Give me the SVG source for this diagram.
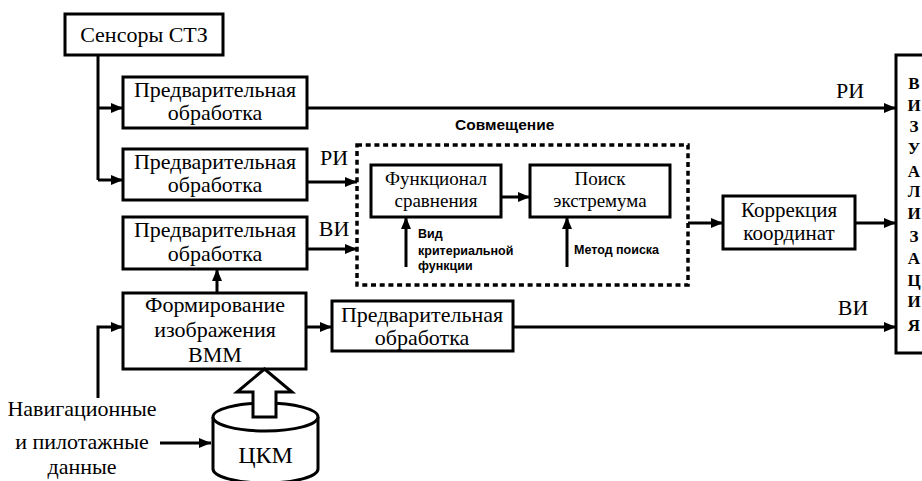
<svg xmlns="http://www.w3.org/2000/svg" width="922" height="481" viewBox="0 0 922 481">
<defs>
<marker id="ah" viewBox="0 0 12 10" refX="12" refY="5" markerWidth="12" markerHeight="10" markerUnits="userSpaceOnUse" orient="auto">
<path d="M0,0 L12,5 L0,10 Z" fill="#000"/>
</marker>
</defs>
<rect width="922" height="481" fill="#fff"/>

<g id="connectors" fill="none" stroke="#000" stroke-width="3">
<path d="M98,55 V180"/>
<path d="M98,108 H123" marker-end="url(#ah)"/>
<path d="M98,180 H123" marker-end="url(#ah)"/>
<path d="M307,108 H896" marker-end="url(#ah)"/>
<path d="M307,182 H357" marker-end="url(#ah)"/>
<path d="M307,249 H357" marker-end="url(#ah)"/>
<path d="M217,293 V269" marker-end="url(#ah)"/>
<path d="M306,327 H332" marker-end="url(#ah)"/>
<path d="M513,327 H896" marker-end="url(#ah)"/>
<path d="M98,398 V327 H123" marker-end="url(#ah)"/>
<path d="M160,443 H211" marker-end="url(#ah)"/>
<path d="M501,197 H530" marker-end="url(#ah)"/>
<path d="M406,267 V217" marker-end="url(#ah)"/>
<path d="M567,267 V217" marker-end="url(#ah)"/>
<path d="M688,223 H723" marker-end="url(#ah)"/>
<path d="M855,223 H896" marker-end="url(#ah)"/>
</g>

<g id="edge-labels" font-family="Liberation Serif" font-size="22" text-anchor="middle" fill="#000">
<text x="850" y="98">РИ</text>
<text x="334" y="165">РИ</text>
<text x="334" y="236">ВИ</text>
<text x="853" y="315">ВИ</text>
</g>

<g fill="#fff" stroke="#000" stroke-width="3">
<rect id="r-sensors" x="65" y="14" width="158" height="41"/>
<rect id="r-pre1" x="123" y="77" width="184" height="51"/>
<rect id="r-pre2" x="123" y="149" width="184" height="51"/>
<rect id="r-pre3" x="123" y="217" width="184" height="52"/>
<rect id="r-vmm" x="123" y="293" width="183" height="76"/>
<rect id="r-pre4" x="332" y="301" width="181" height="50"/>
<rect id="r-func" x="371" y="165" width="130" height="52"/>
<rect id="r-poisk" x="530" y="165" width="140" height="52"/>
<rect id="r-korr" x="723" y="196" width="132" height="53"/>
<rect id="r-vis" x="896" y="55" width="40" height="298"/>
</g>

<g font-family="Liberation Serif" font-size="22" text-anchor="middle" fill="#000">
<g id="sensors"><text x="144" y="42">Сенсоры СТЗ</text></g>
<g id="pre1"><text x="215" y="97">Предварительная</text><text x="215" y="120">обработка</text></g>
<g id="pre2"><text x="215" y="169">Предварительная</text><text x="215" y="192">обработка</text></g>
<g id="pre3"><text x="215" y="237">Предварительная</text><text x="215" y="261">обработка</text></g>
<g id="vmm"><text x="215" y="312">Формирование</text><text x="215" y="337">изображения</text><text x="215" y="362">ВММ</text></g>
<g id="pre4"><text x="422" y="322">Предварительная</text><text x="422" y="345">обработка</text></g>
<g id="nav"><text x="82" y="416">Навигационные</text><text x="82" y="449">и пилотажные</text><text x="82" y="474">данные</text></g>
<g id="korr" font-size="21"><text x="789" y="217">Коррекция</text><text x="789" y="240">координат</text></g>
<g id="func" font-size="19"><text x="436" y="185">Функционал</text><text x="436" y="207">сравнения</text></g>
<g id="poisk" font-size="19"><text x="600" y="185">Поиск</text><text x="600" y="207">экстремума</text></g>
</g>

<g id="ckm">
<path d="M213,417 V469 A52.5,14 0 0 0 318,469 V417" fill="#fff" stroke="#000" stroke-width="3"/>
<ellipse cx="265.5" cy="417" rx="52.5" ry="14" fill="#fff" stroke="#000" stroke-width="3"/>
<path d="M253,417 V392 H237 L264.5,369 L292,392 H276 V417 Z" fill="#fff" stroke="#000" stroke-width="3"/>
<text x="265.5" y="463" font-family="Liberation Serif" font-size="24" text-anchor="middle" fill="#000">ЦКМ</text>
</g>

<g id="sovm">
<rect x="357" y="145" width="331" height="140" fill="none" stroke="#000" stroke-width="3.5" stroke-dasharray="5 3.7"/>
<text x="455" y="130" font-family="Liberation Sans" font-size="15.5" font-weight="bold" fill="#000">Совмещение</text>
</g>

<g id="small-labels" font-family="Liberation Sans" font-size="12.5" font-weight="bold" fill="#000">
<text x="418" y="238">Вид</text>
<text x="418" y="255">критериальной</text>
<text x="418" y="270">функции</text>
<text x="574" y="254">Метод поиска</text>
</g>

<g id="vis" font-family="Liberation Serif" font-size="17" font-weight="bold" text-anchor="middle" fill="#000">
<text x="914" y="89">В</text>
<text x="914" y="111">И</text>
<text x="914" y="132">З</text>
<text x="914" y="154">У</text>
<text x="914" y="177">А</text>
<text x="914" y="197">Л</text>
<text x="914" y="219">И</text>
<text x="914" y="242">З</text>
<text x="914" y="264">А</text>
<text x="914" y="286">Ц</text>
<text x="914" y="307">И</text>
<text x="914" y="331">Я</text>
</g>
</svg>
